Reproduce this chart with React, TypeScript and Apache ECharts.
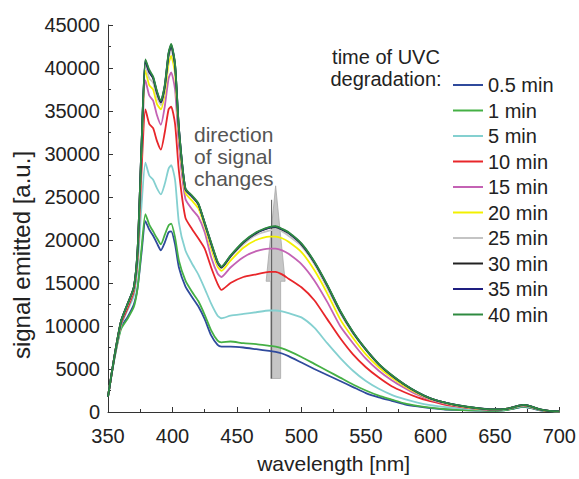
import React, { useEffect, useRef } from "react";
import * as echarts from "echarts";

const wavelengths = [350, 355, 360, 365, 370, 373, 376, 379, 382, 385, 388, 391, 394, 397, 399, 402, 405, 410, 415, 420, 425, 430, 435, 438, 445, 455, 465, 475, 480, 485, 490, 500, 510, 520, 530, 540, 550, 560, 570, 580, 590, 600, 610, 620, 630, 640, 650, 660, 665, 672, 678, 685, 692, 700];

const min05 = [1800, 6300, 9800, 11000, 12500, 14500, 18500, 22200, 21200, 20500, 19600, 18800, 19700, 20900, 21000, 19500, 16800, 14600, 13400, 12300, 10800, 8900, 7800, 7600, 7600, 7500, 7300, 7100, 7000, 6800, 6500, 5750, 5000, 4300, 3600, 2900, 2200, 1700, 1300, 900, 650, 450, 320, 240, 180, 150, 130, 250, 400, 600, 450, 200, 90, 50];
const min1 = [1800, 6200, 9600, 10800, 12200, 14500, 19000, 23000, 21800, 21000, 20200, 19500, 20600, 21700, 21900, 20300, 17600, 15300, 14000, 12900, 11300, 9500, 8300, 8100, 8200, 8000, 7900, 7700, 7600, 7400, 7100, 6400, 5600, 4800, 4000, 3200, 2500, 1900, 1450, 1000, 720, 500, 350, 260, 200, 160, 140, 260, 420, 620, 470, 210, 100, 50];
const min5 = [1800, 6300, 10000, 11800, 13500, 17000, 24000, 29000, 27500, 27000, 26000, 25300, 26500, 28300, 28700, 27000, 22000, 18800, 17300, 16000, 14350, 12600, 11200, 10900, 11200, 11400, 11600, 11800, 11800, 11700, 11500, 11000, 9800, 8000, 6300, 4800, 3600, 2700, 2000, 1500, 1100, 800, 600, 450, 330, 260, 220, 350, 500, 700, 550, 250, 120, 60];
const min10 = [1800, 6400, 10200, 12000, 14000, 18000, 28000, 35200, 33500, 33000, 31500, 30500, 32500, 35200, 35500, 33500, 28000, 22600, 21300, 20200, 19000, 16800, 14900, 14200, 15000, 15700, 16000, 16300, 16300, 16000, 15500, 14500, 13000, 10800, 8600, 6700, 5200, 4000, 3000, 2300, 1700, 1250, 900, 650, 450, 320, 250, 380, 560, 780, 600, 280, 130, 70];
const min15 = [1800, 6500, 10400, 12300, 14300, 18500, 30000, 38600, 36800, 36200, 34500, 33400, 35500, 38800, 39500, 37500, 31000, 24800, 23600, 22700, 20900, 18000, 16100, 15700, 16800, 18000, 18700, 19000, 19000, 18800, 18400, 17200, 15300, 12800, 10000, 8000, 6200, 4800, 3700, 2800, 2000, 1400, 1000, 700, 480, 340, 270, 390, 560, 790, 620, 290, 130, 70];
const min20 = [1800, 6500, 10500, 12400, 14400, 18800, 30500, 39700, 38000, 37500, 35800, 35200, 37000, 40500, 41400, 39300, 32200, 25500, 24600, 23700, 21600, 19000, 16900, 16400, 17600, 19100, 20000, 20400, 20400, 20200, 19800, 18600, 16500, 13800, 10800, 8600, 6700, 5200, 4000, 3000, 2150, 1500, 1080, 760, 520, 370, 280, 400, 570, 800, 630, 290, 130, 75];
const min25 = [1800, 6500, 10500, 12500, 14500, 19000, 31000, 40300, 38800, 38300, 36600, 35700, 37500, 41200, 42100, 40000, 32600, 25800, 25000, 24100, 21800, 19400, 17200, 16700, 18000, 19500, 20600, 21100, 21200, 21000, 20500, 19300, 17200, 14400, 11500, 9100, 7200, 5500, 4200, 3150, 2250, 1550, 1120, 800, 560, 390, 290, 400, 580, 810, 640, 300, 130, 80];
const min30 = [1800, 6500, 10500, 12500, 14500, 19000, 31000, 40800, 39500, 38800, 37100, 36000, 37800, 41600, 42600, 40300, 32900, 25900, 25100, 24200, 21900, 19600, 17400, 16800, 18100, 19700, 20800, 21400, 21500, 21200, 20800, 19500, 17400, 14700, 11700, 9250, 7250, 5550, 4250, 3180, 2280, 1580, 1140, 810, 570, 395, 295, 400, 580, 815, 645, 300, 130, 80];
const min35 = [1800, 6500, 10500, 12500, 14500, 19000, 31000, 40900, 39600, 38900, 37200, 36100, 37900, 41700, 42700, 40400, 33000, 26000, 25100, 24200, 22000, 19600, 17400, 16850, 18150, 19750, 20850, 21450, 21550, 21250, 20850, 19550, 17450, 14750, 11750, 9280, 7280, 5580, 4280, 3190, 2290, 1590, 1150, 815, 575, 398, 298, 400, 580, 818, 648, 300, 130, 80];
const min40 = [1800, 6500, 10500, 12500, 14500, 19000, 31000, 41000, 39800, 39000, 37300, 36200, 38000, 41800, 42800, 40500, 33000, 26000, 25200, 24300, 22000, 19700, 17500, 16900, 18200, 19800, 20900, 21500, 21600, 21300, 20900, 19600, 17500, 14800, 11800, 9300, 7300, 5600, 4300, 3200, 2300, 1600, 1150, 820, 580, 400, 300, 400, 580, 820, 650, 300, 130, 80];

const seriesNames = ["0.5 min", "1 min", "5 min", "10 min", "15 min", "20 min", "25 min", "30 min", "35 min", "40 min"];
const seriesValues = [min05, min1, min5, min10, min15, min20, min25, min30, min35, min40];
const colors = ["#2f4a9c", "#45b045", "#84d0d0", "#e8262a", "#c462b4", "#f2f000", "#c4c4c4", "#222222", "#1e1e80", "#2e8a40"];

const xTicks = { min: 350, max: 700, interval: 50 };
const yTicks = { min: 0, max: 45000, interval: 5000 };

// arrow annotation (data coordinates)
const arrowX = 480;
const arrowBottom = 3900;
const arrowHeadBase = 15200;
const arrowTop = 26300;

const FONT = '"Liberation Sans", Arial, Helvetica, sans-serif';

export default function App() {
  const ref = useRef<HTMLDivElement>(null);
  useEffect(() => {
    const chart = echarts.init(ref.current!, undefined, { renderer: "svg" });
    const series = seriesNames.map((name, i) => ({
      name,
      type: "line",
      data: wavelengths.map((w, j) => [w, seriesValues[i][j]]),
      symbol: "none",
      showSymbol: false,
      smooth: 0.2,
      lineStyle: { color: colors[i], width: 1.8 },
      itemStyle: { color: colors[i] },
      z: 3 + i,
    }));
    chart.setOption({
      animation: false,
      grid: { left: 108, right: 17, top: 25, bottom: 65, containLabel: false },
      xAxis: {
        type: "value",
        min: xTicks.min,
        max: xTicks.max,
        interval: xTicks.interval,
        name: "wavelength [nm]",
        nameLocation: "middle",
        nameGap: 41,
        nameTextStyle: { fontSize: 21, color: "#222", fontFamily: FONT },
        axisLine: { show: true, lineStyle: { color: "#333", width: 1 } },
        axisTick: { show: true, inside: true, length: 5, lineStyle: { color: "#333" } },
        minorTick: { show: true, splitNumber: 2, length: 3, lineStyle: { color: "#333" } },
        axisLabel: { fontSize: 20, color: "#222", margin: 14, fontFamily: FONT },
        splitLine: { show: false },
      },
      yAxis: {
        type: "value",
        min: yTicks.min,
        max: yTicks.max,
        interval: yTicks.interval,
        axisLine: { show: true, lineStyle: { color: "#333", width: 1 } },
        axisTick: { show: true, inside: true, length: 5, lineStyle: { color: "#333" } },
        minorTick: { show: true, splitNumber: 2, length: 3, lineStyle: { color: "#333" } },
        axisLabel: { fontSize: 20, color: "#222", margin: 8, fontFamily: FONT, formatter: (v: number) => String(v) },
        splitLine: { show: false },
      },
      legend: {
        data: seriesNames,
        orient: "vertical",
        left: 448,
        top: 70,
        icon: "rect",
        itemWidth: 30,
        itemHeight: 2,
        itemGap: 5.5,
        textStyle: { fontSize: 20, color: "#222", fontFamily: FONT, lineHeight: 20 },
      },
      series,
    });

    const p = (x: number, y: number) => chart.convertToPixel({ xAxisIndex: 0, yAxisIndex: 0 }, [x, y]) as number[];
    const tip = p(arrowX, arrowTop);
    const base = p(arrowX, arrowHeadBase);
    const bot = p(arrowX, arrowBottom);
    const xc = tip[0];
    chart.setOption({
      graphic: [
        {
          type: "polygon",
          z: 1,
          shape: {
            points: [
              [xc, tip[1]],
              [xc + 9.5, base[1]],
              [xc + 5, base[1]],
              [xc + 5, bot[1]],
              [xc - 5, bot[1]],
              [xc - 5, base[1]],
              [xc - 9.5, base[1]],
            ],
          },
          style: { fill: "#c6c6c6", stroke: "#a8a8a8", lineWidth: 0.8 },
        },
        {
          type: "line",
          z: 1,
          shape: { x1: xc - 4, y1: tip[1] + 14, x2: xc - 4, y2: bot[1] },
          style: { stroke: "#555", lineWidth: 1 },
        },
        {
          type: "text",
          z: 20,
          left: 194,
          top: 123,
          style: {
            text: "direction\nof signal\nchanges",
            font: `21px ${FONT}`,
            fill: "#555",
            lineHeight: 22,
          },
        },
        {
          type: "text",
          z: 20,
          x: 386,
          y: 46,
          style: {
            text: "time of UVC\ndegradation:",
            font: `20px ${FONT}`,
            fill: "#222",
            lineHeight: 22,
            textAlign: "center",
            textVerticalAlign: "top",
          },
        },
        {
          type: "text",
          z: 20,
          x: 21,
          y: 255,
          rotation: Math.PI / 2,
          style: {
            text: "signal emitted [a.u.]",
            font: `24px ${FONT}`,
            fill: "#222",
            textAlign: "center",
            textVerticalAlign: "middle",
          },
        },
      ],
    });
    return () => chart.dispose();
  }, []);
  return <div ref={ref} style={{ position: "fixed", left: 0, top: 0, width: 579, height: 479, background: "#fff" }} />;
}
